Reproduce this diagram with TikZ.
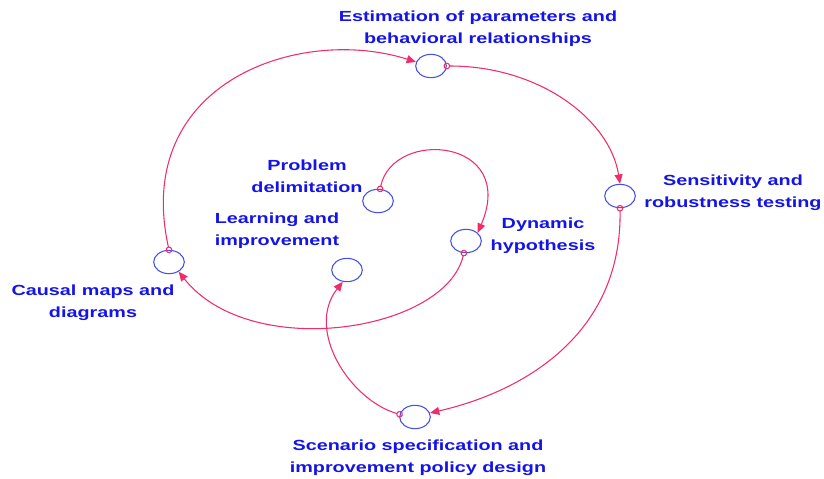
\documentclass[tikz,border=0pt]{standalone}
\usepackage{fontspec}
\setmainfont{Liberation Sans}[FakeStretch=1.35]
\usepackage{tikz}
\usetikzlibrary{positioning,shapes.geometric,arrows.meta}

\definecolor{lblblue}{RGB}{20,20,230}
\definecolor{lvlblue}{RGB}{70,80,230}
\definecolor{linkred}{RGB}{240,45,105}

\begin{document}
\begin{tikzpicture}[x=0.75pt,y=0.75pt,yscale=-1,xscale=1,
  stock/.style={draw=lvlblue,line width=0.8pt,ellipse,minimum width=23pt,minimum height=17.5pt,inner sep=0pt},
  lbl/.style={text=lblblue,font=\fontsize{11}{16.5}\selectfont\bfseries,align=center,inner sep=0pt},
  link/.style={draw=linkred,line width=0.8pt,shorten <=-2.5pt,{Circle[open,length=5pt,width=5pt]}-{Triangle[length=7pt,width=6pt]}}]
%set diagram left start at 0, and has size of 824 x 478
\useasboundingbox (0,0) rectangle (824,478);

%Shape: Ellipse [estimation]
\draw (431,66) node [stock] (est) {};
%Shape: Ellipse [sensitivity]
\draw (620,196) node [stock] (sens) {};
%Shape: Ellipse [problem]
\draw (378,201) node [stock] (prob) {};
%Shape: Ellipse [dynamic]
\draw (466,241) node [stock] (dyn) {};
%Shape: Ellipse [learning]
\draw (347,270) node [stock] (learn) {};
%Shape: Ellipse [causal]
\draw (169,262) node [stock] (causal) {};
%Shape: Ellipse [scenario]
\draw (415,417) node [stock] (scen) {};

%Curve Lines
\draw [link] (prob.80) .. controls (393,128) and (518,138) .. (dyn.35);
%Curve Lines
\draw [link] (dyn.-100) .. controls (445,332) and (250,362) .. (causal.-45);
%Curve Lines
\draw [link] (causal.north) .. controls (132,82) and (300,25) .. (est.165);
%Curve Lines
\draw [link] (est.east) .. controls (540,66) and (610,120) .. (sens.north);
%Curve Lines
\draw [link] (sens.south) .. controls (622,330) and (530,390) .. (scen.15);
%Curve Lines
\draw [link] (scen.170) .. controls (350,400) and (305,330) .. (learn.-110);

% Text Node
\draw (478,29) node [lbl] (estl) {Estimation of parameters and\\behavioral relationships};
% Text Node
\draw (733,193) node [lbl] (sensl) {Sensitivity and\\robustness testing};
% Text Node
\draw (307,176) node [lbl] (probl) {Problem\\delimitation};
% Text Node
\draw (277,231) node [lbl] (learnl) {Learning and\\improvement};
% Text Node
\draw (543,236) node [lbl] (dynl) {Dynamic\\hypothesis};
% Text Node
\draw (93,303) node [lbl] (causall) {Causal maps and\\diagrams};
% Text Node
\draw (418,458) node [lbl] (scenl) {Scenario specification and\\improvement policy design};

\end{tikzpicture}
\end{document}
